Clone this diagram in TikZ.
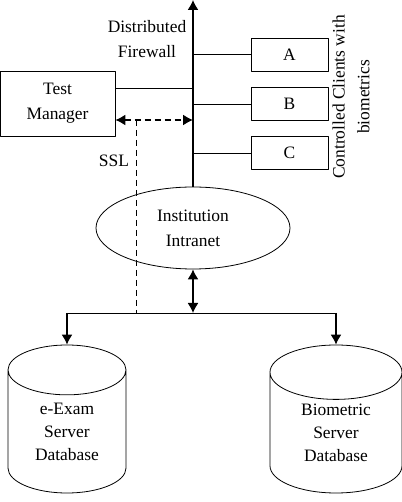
\documentclass[tikz,border=0pt]{standalone}
\usepackage{fontspec}
\setmainfont{Liberation Serif}
\usepackage{tikz}
\usetikzlibrary{calc,positioning,shapes,arrows.meta}

\begin{document}
\begin{tikzpicture}[>={Latex[length=10bp,width=11bp]},line join=bevel,
  font=\fontsize{17.5}{25}\selectfont,
  box/.style={draw,line width=0.8bp,inner sep=0pt},
  dbase/.style={draw,line width=0.8bp,cylinder,shape border rotate=90,aspect=0.78,
    anchor=shape center,align=center,inner sep=0pt,font=\fontsize{17.5}{23}\selectfont},
  link/.style={line width=0.8bp},
  wire/.style={line width=1.4bp},
  ssl/.style={dash pattern=on 6bp off 4bp}]
\useasboundingbox (0bp,0bp) rectangle (402bp,502bp);
%%
\node (tm) at (57.5bp,398.5bp) [box,minimum width=115bp,minimum height=65bp,align=center] {Test\\Manager};
  \node (a) at (289.5bp,447.5bp) [box,minimum width=77bp,minimum height=33bp] {A};
  \node (b) at (289.5bp,398.0bp) [box,minimum width=77bp,minimum height=33bp] {B};
  \node (c) at (289.5bp,349.0bp) [box,minimum width=77bp,minimum height=33bp] {C};
  \node (net) at (193.0bp,274.0bp) [draw,ellipse,line width=0.8bp,minimum width=194bp,minimum height=82bp,align=center,inner sep=0pt] {Institution\\Intranet};
  \node (edb) at (67.0bp,83.0bp) [dbase,minimum width=118bp,minimum height=148bp] {e-Exam\\Server\\Database};
  \node (bdb) at (336.0bp,83.0bp) [dbase,minimum width=132bp,minimum height=148bp] {Biometric\\Server\\Database};
  \coordinate (top) at (193.0bp,502.0bp);
  \coordinate (bus) at (193.0bp,189.0bp);
  \coordinate (ssl) at (136.0bp,382.0bp);
%
  \draw [wire,->] (net.north) -- (top);
  \draw [link] (a.west) -- (a.west -| top);
  \draw [link] (b.west) -- (b.west -| top);
  \draw [link] (c.west) -- (c.west -| top);
  \draw [link] (tm.east |- 0,414bp) -- (193bp,414bp);
  \draw [wire,ssl,<->] (tm.east |- ssl) -- (ssl -| top);
  \draw [link,ssl] (ssl) -- (ssl |- bus);
  \draw [wire,<->] (net.south) -- (bus);
  \draw [link] (edb.north |- bus) -- (bdb.north |- bus);
  \draw [wire,->] (edb.north |- bus) -- (edb.north);
  \draw [wire,->] (bdb.north |- bus) -- (bdb.north);
%
  \draw (147.0bp,463.0bp) node [align=center] {Distributed\\Firewall};
  \draw (114.0bp,341.0bp) node {SSL};
  \draw (351.0bp,405.0bp) node [rotate=90,align=center] {Controlled Clients with\\biometrics};
%
\end{tikzpicture}
\end{document}
